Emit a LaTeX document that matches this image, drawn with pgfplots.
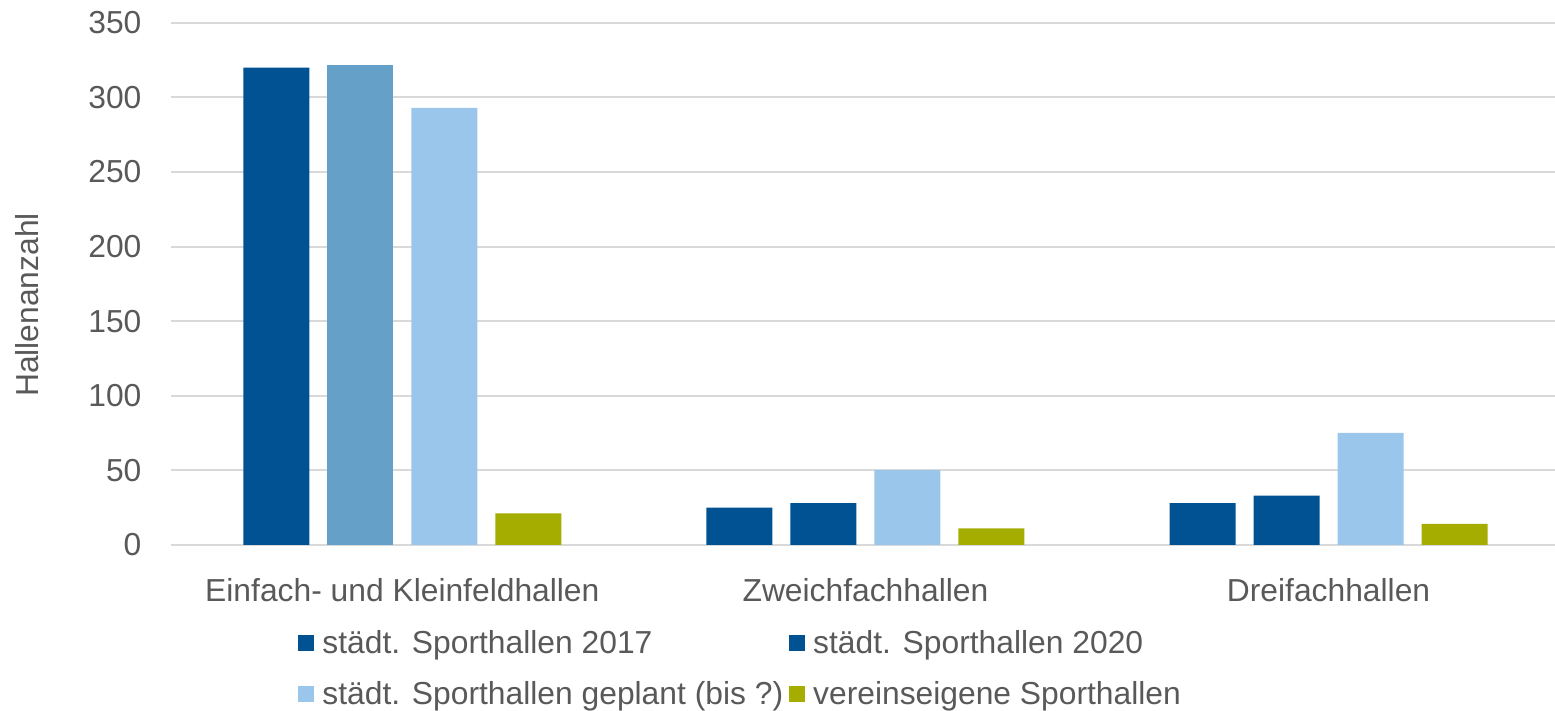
\documentclass[border=0pt]{standalone}
\usepackage{fontspec}
\setmainfont{Liberation Sans}
\usepackage{pgfplots}
\pgfplotsset{compat=1.18}

\definecolor{dunkelblau}{RGB}{0,82,147}
\definecolor{mittelblau}{RGB}{101,160,200}
\definecolor{hellblau}{RGB}{153,198,234}
\definecolor{oliv}{RGB}{165,174,0}
\definecolor{textgrau}{RGB}{89,89,89}
\definecolor{gitter}{RGB}{217,217,217}

\begin{document}
\begin{tikzpicture}
\begin{axis}[
  scale only axis,
  width=692.1pt,
  height=261pt,
  at={(0,0)}, anchor=south west,
  ybar,
  bar width=33pt,
  xmin=-0.5, xmax=2.489,
  ymin=0, ymax=350,
  ytick={0,50,...,350},
  xtick={0,1,2},
  xticklabels={Einfach- und Kleinfeldhallen,Zweichfachhallen,Dreifachhallen},
  axis x line*=bottom,
  axis y line*=left,
  axis line style={draw=none},
  tick style={draw=none},
  ymajorgrids,
  grid style={draw=gitter, line width=1pt},
  /pgf/number format/assume math mode=true,
  ticklabel style={font=\fontsize{15.9}{19}\selectfont, text=textgrau, inner sep=0pt},
  yticklabel style={anchor=east, xshift=-14.5pt},
  xticklabel style={anchor=base, yshift=-24.1pt},
  ylabel={Hallenanzahl},
  every axis y label/.style={at={(axis description cs:-0.1039,0.4594)}, rotate=90, anchor=center,
    font=\fontsize{15.9}{19}\selectfont, text=textgrau},
  legend columns=2,
  legend cell align=left,
  legend style={
    at={(axis description cs:0.0919,-0.1619)}, anchor=north west,
    draw=none, fill=none, inner sep=0pt,
    font=\fontsize{15.9}{19}\selectfont, text=textgrau,
    nodes={inner sep=0pt, text height=12pt, text depth=3.5pt},
    row sep=10pt,
    /tikz/every odd column/.append style={column sep=4pt},
    /tikz/every even column/.append style={column sep=3pt},
  },
  legend image code/.code={\fill[#1] (0pt,-3pt) rectangle (8pt,5pt);},
]
\addplot[fill=dunkelblau, draw=none, bar shift=-63pt] coordinates {(0,320) (1,25) (2,28)};
\addlegendentry{städt. Sporthallen 2017}
\addplot[fill=dunkelblau, draw=none, bar shift=-21pt] coordinates {(1,28) (2,33)};
\addlegendentry{städt. Sporthallen 2020}
\addplot[fill=hellblau, draw=none, bar shift=21pt] coordinates {(0,293) (1,50) (2,75)};
\addlegendentry{städt. Sporthallen geplant (bis ?)}
\addplot[fill=oliv, draw=none, bar shift=63pt] coordinates {(0,21) (1,11) (2,14)};
\addlegendentry{vereinseigene Sporthallen}
\addplot[fill=mittelblau, draw=none, bar shift=-21pt, forget plot] coordinates {(0,322)};
\end{axis}
\pgfresetboundingbox
\path (-85.4pt,-83.1pt) rectangle (692.1pt,272.4pt);
\end{tikzpicture}
\end{document}
